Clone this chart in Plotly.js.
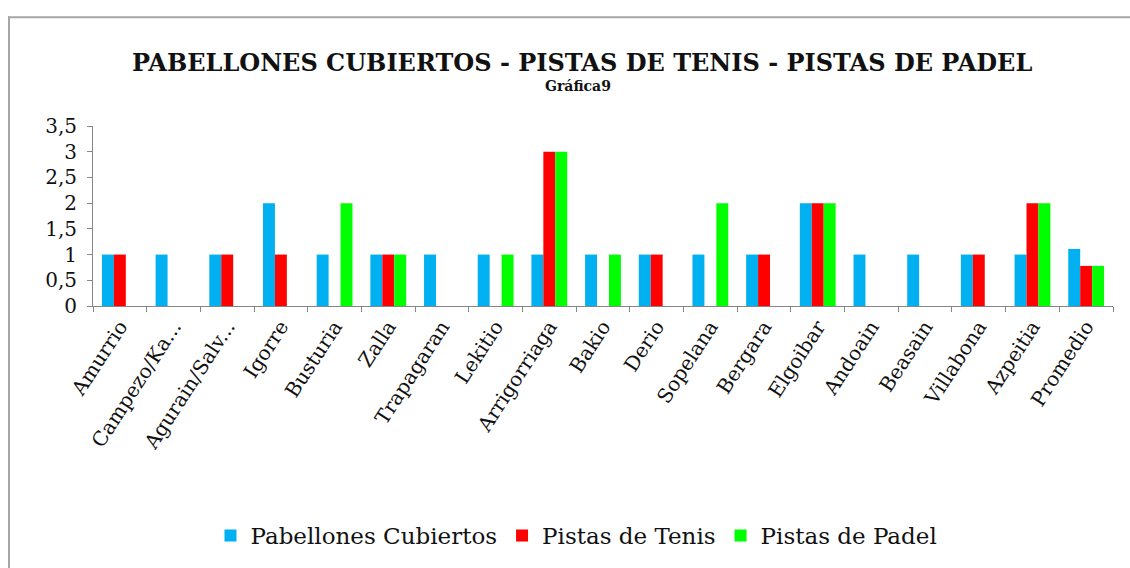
<!DOCTYPE html>
<html>
<head>
<meta charset="utf-8">
<script src="https://cdn.plot.ly/plotly-3.0.1.min.js"></script>
<style>
  html, body { margin: 0; padding: 0; background: #fff; overflow: hidden; }
  #chart { width: 1130px; height: 568px; }
</style>
</head>
<body>
<div id="chart"></div>
<script>
const categories = ["Amurrio", "Campezo/Ka...", "Agurain/Salv...", "Igorre", "Busturia", "Zalla",
  "Trapagaran", "Lekitio", "Arrigorriaga", "Bakio", "Derio", "Sopelana", "Bergara",
  "Elgoibar", "Andoain", "Beasain", "Villabona", "Azpeitia", "Promedio"];
const pabellones = [1, 1, 1, 2, 1, 1, 1, 1, 1, 1, 1, 1, 1, 2, 1, 1, 1, 1, 1.11];
const tenis      = [1, 0, 1, 1, 0, 1, 0, 0, 3, 0, 1, 0, 1, 2, 0, 0, 1, 2, 0.78];
const padel      = [0, 0, 0, 0, 2, 1, 0, 1, 3, 1, 0, 2, 0, 2, 0, 0, 0, 2, 0.78];
const seriesNames = ["Pabellones Cubiertos", "Pistas de Tenis", "Pistas de Padel"];
const yTicks = [0, 0.5, 1, 1.5, 2, 2.5, 3, 3.5];

const serif = "DejaVu Serif, serif";
const colors = ["#00B0F0", "#FF0000", "#00FF00"];
const data = [pabellones, tenis, padel].map((vals, i) => ({
  type: "bar", x: categories, y: vals, name: seriesNames[i],
  marker: { color: colors[i], line: { width: 0 } },
  hoverinfo: "x+y+name"
}));

// chart-frame geometry in pixels, converted to paper coordinates
const W = 1130, H = 568, ML = 93, MR = 17, MT = 126, MB = 260;
const pw = W - ML - MR, ph = H - MT - MB;
const px = p => (p - ML) / pw;
const py = p => (H - MB - p) / ph;

const layout = {
  width: W, height: H,
  paper_bgcolor: "#ffffff", plot_bgcolor: "rgba(0,0,0,0)",
  margin: { l: ML, r: MR, t: MT, b: MB },
  separators: ", ",
  barmode: "group", bargap: 0.333, bargroupgap: 0,
  font: { family: serif, color: "#111111", size: 20 },
  xaxis: {
    type: "category", tickangle: -57, tickson: "boundaries",
    ticks: "outside", ticklen: 5, tickcolor: "#868686",
    showline: true, linecolor: "#868686", linewidth: 1,
    showgrid: false, zeroline: false,
    tickfont: { family: serif, size: 20, color: "#111111" }
  },
  yaxis: {
    range: [0, 3.5], tickvals: yTicks, tickformat: ".1~f",
    ticks: "outside", ticklen: 5, tickcolor: "#868686",
    showline: true, linecolor: "#868686", linewidth: 1,
    showgrid: false, zeroline: false, ticklabelstandoff: 6,
    tickfont: { family: serif, size: 20, color: "#111111" }
  },
  showlegend: true,
  legend: {
    orientation: "h", x: 0.474, xanchor: "center", y: -1.275, yanchor: "middle",
    font: { family: serif, size: 23, color: "#111111" },
    itemwidth: 30, tracegroupgap: 0
  },
  shapes: [
    { type: "line", xref: "paper", yref: "paper", x0: px(9), x1: px(9), y0: py(15), y1: py(600),
      line: { color: "#a6a6a6", width: 2 }, layer: "below" },
    { type: "line", xref: "paper", yref: "paper", x0: px(8), x1: px(1200), y0: py(16), y1: py(16),
      line: { color: "#a6a6a6", width: 2 }, layer: "below" }
  ],
  annotations: [
    { text: "<b>PABELLONES CUBIERTOS - PISTAS DE TENIS - PISTAS DE PADEL</b>",
      xref: "paper", yref: "paper", x: 0.479, xanchor: "center",
      y: py(62), yanchor: "middle", showarrow: false,
      font: { family: serif, size: 24, color: "#111111" } },
    { text: "<b>Gráfica9</b>",
      xref: "paper", yref: "paper", x: 0.475, xanchor: "center",
      y: py(86), yanchor: "middle", showarrow: false,
      font: { family: serif, size: 14, color: "#111111" } }
  ]
};

Plotly.newPlot("chart", data, layout, { displayModeBar: false, staticPlot: true });
</script>
</body>
</html>
